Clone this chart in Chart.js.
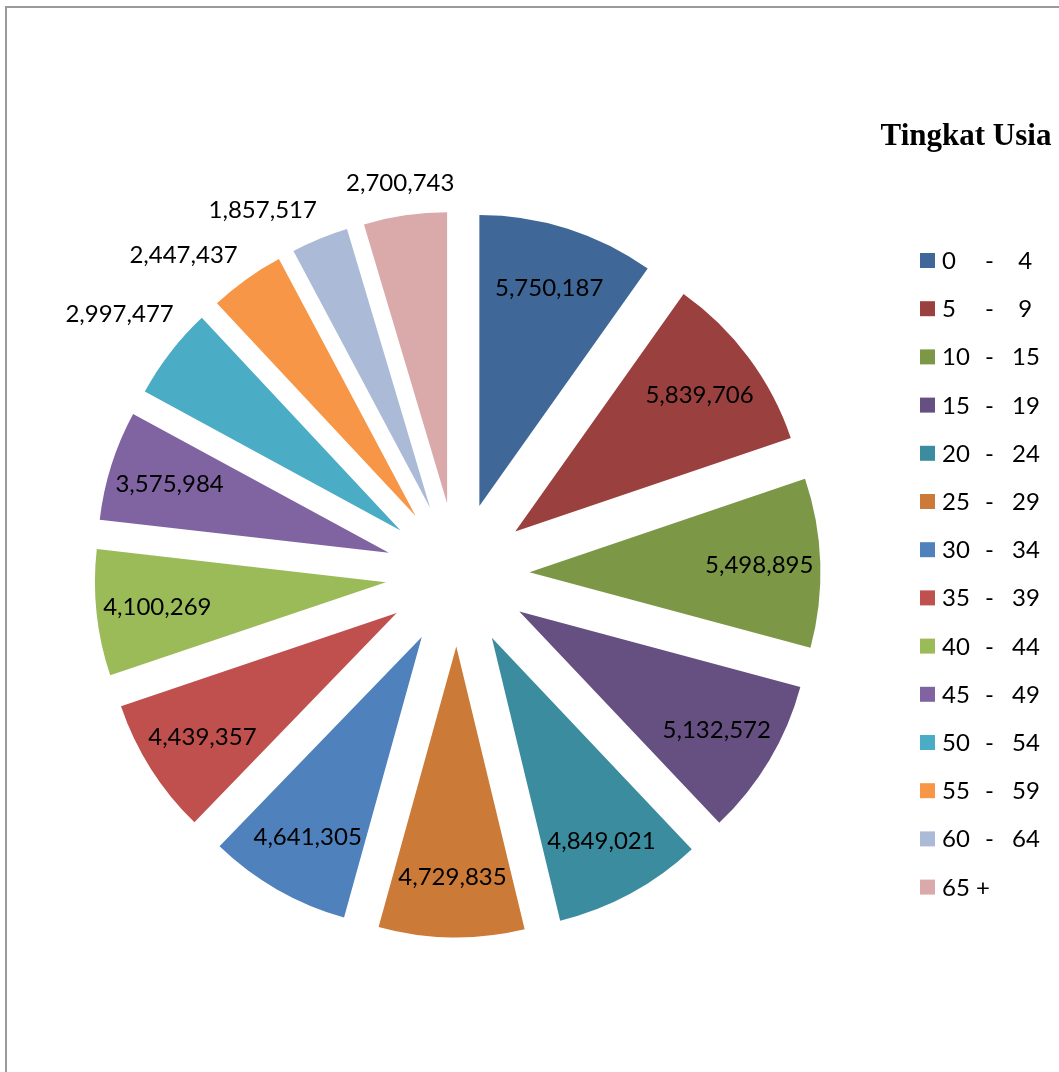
<!DOCTYPE html>
<html>
<head>
<meta charset="utf-8">
<title>Tingkat Usia</title>
<script src="https://cdn.jsdelivr.net/npm/chart.js@4/dist/chart.umd.min.js"></script>
<style>
  body { margin: 0; background: #fff; }
  #wrap { position: relative; width: 1059px; height: 1072px; }
  #frame { position: absolute; left: 5px; top: 6px; right: -10px; bottom: -10px;
           border-left: 2px solid #9a9a9a; border-top: 2px solid #9a9a9a; }
  canvas { position: absolute; left: 0; top: 0; }
</style>
</head>
<body>
<div id="wrap">
  <div id="frame"></div>
  <canvas id="pieChart"></canvas>
</div>
<script>
// age groups and population per group
const ageGroups = ['0 - 4', '5 - 9', '10 - 15', '15 - 19', '20 - 24', '25 - 29', '30 - 34',
                   '35 - 39', '40 - 44', '45 - 49', '50 - 54', '55 - 59', '60 - 64', '65 +'];
const population = [5750187, 5839706, 5498895, 5132572, 4849021, 4729835, 4641305,
                    4439357, 4100269, 3575984, 2997477, 2447437, 1857517, 2700743];
const sliceColors = ['#3f6797', '#9a403e', '#7c9847', '#665082', '#3c8c9f', '#cb7a37', '#4f81bd',
                     '#c0504d', '#9bbb59', '#8064a2', '#4bacc6', '#f79646', '#aabad7', '#d9aaa9'];
const legendTitle = 'Tingkat Usia';

const RADIUS = 291;
const EXPLODE = 72;            // how far each slice is pulled out
const LABEL_FONT = '24px Lato';

function fmt(n) {
    return n.toLocaleString('en-US');
}

// chart.js grows and narrows thin exploded slices; undo that so all look alike
const evenSlices = {
    id: 'evenSlices',
    afterDatasetsUpdate(chart) {
        chart.getDatasetMeta(0).data.forEach(arc => {
            const fix = 1 - Math.sin(Math.min(Math.PI, arc.circumference));
            const grow = EXPLODE * fix;
            const trim = grow / Math.PI / RADIUS;
            arc.outerRadius = RADIUS - grow;
            arc.startAngle -= trim / 2;
            arc.endAngle += trim / 2;
        });
    }
};

// values on or beside each slice
const valueLabels = {
    id: 'valueLabels',
    afterDatasetsDraw(chart) {
        const ctx = chart.ctx;
        const meta = chart.getDatasetMeta(0);
        const total = population.reduce((a, b) => a + b, 0);
        ctx.save();
        ctx.font = LABEL_FONT;
        ctx.fillStyle = '#000';
        ctx.textAlign = 'center';
        ctx.textBaseline = 'middle';
        let prevBox = null;
        // walk backwards so outside labels can slide away from the one already placed
        for (let i = meta.data.length - 1; i >= 0; i--) {
            const arc = meta.data[i];
            const mid = (arc.startAngle + arc.endAngle) / 2;
            const tipX = arc.x + Math.cos(mid) * EXPLODE;
            const tipY = arc.y + Math.sin(mid) * EXPLODE;
            const text = fmt(population[i]);
            if (population[i] / total >= 0.055) {
                const d = RADIUS * 0.79;
                ctx.fillText(text, tipX + Math.cos(mid) * d, tipY + Math.sin(mid) * d + 1);
                prevBox = null;
                continue;
            }
            const halfW = ctx.measureText(text).width / 2;
            const hw = halfW + 13.5;
            const hh = 22;
            let a = mid, x, y, box;
            for (let k = 0; k < 90; k++) {
                const d = RADIUS + 14 + Math.abs(Math.cos(a)) * halfW + Math.abs(Math.sin(a)) * 12;
                x = tipX + Math.cos(a) * d;
                y = tipY + Math.sin(a) * d;
                box = { l: x - hw, r: x + hw, t: y - hh, b: y + hh };
                if (!prevBox || box.r <= prevBox.l || box.l >= prevBox.r || box.b <= prevBox.t || box.t >= prevBox.b) break;
                a -= Math.PI / 360;
            }
            ctx.fillText(text, x, y + 1);
            prevBox = box;
        }
        ctx.restore();
    }
};

// legend on the right, numbers set in columns
const sideLegend = {
    id: 'sideLegend',
    afterDraw(chart) {
        const ctx = chart.ctx;
        ctx.save();
        ctx.fillStyle = '#000';
        ctx.font = 'bold 31px "Liberation Serif"';
        ctx.textAlign = 'center';
        ctx.textBaseline = 'alphabetic';
        ctx.fillText(legendTitle, 966, 145);

        ctx.font = LABEL_FONT;
        ctx.textAlign = 'left';
        ageGroups.forEach((g, i) => {
            const cy = 260.5 + i * 48.2;
            ctx.fillStyle = sliceColors[i];
            ctx.fillRect(920, cy - 7.5, 15, 15);
            ctx.fillStyle = '#000';
            const parts = g.split(' - ');
            const base = cy + 8.5;
            if (parts.length === 2) {
                ctx.fillText(parts[0], 942, base);
                ctx.fillText('-', 985, base);
                ctx.fillText(parts[1].length === 1 ? ' ' + parts[1] : parts[1], 1012, base);
            } else {
                ctx.fillText(g, 942, base);
            }
        });
        ctx.restore();
    }
};

window.onload = function() {
    const ctx = document.getElementById('pieChart').getContext('2d');
    ctx.canvas.width = 1059;
    ctx.canvas.height = 1072;

    new Chart(ctx, {
        type: 'pie',
        data: {
            labels: ageGroups,
            datasets: [{
                data: population,
                backgroundColor: sliceColors,
                borderWidth: 0,
                offset: EXPLODE * 4
            }]
        },
        options: {
            responsive: false,
            animation: false,
            radius: RADIUS,
            layout: { padding: { left: 0, right: 144, top: 77, bottom: 0 } },
            plugins: {
                legend: { display: false },
                tooltip: { enabled: false }
            }
        },
        plugins: [evenSlices, valueLabels, sideLegend]
    });
};
</script>
</body>
</html>
